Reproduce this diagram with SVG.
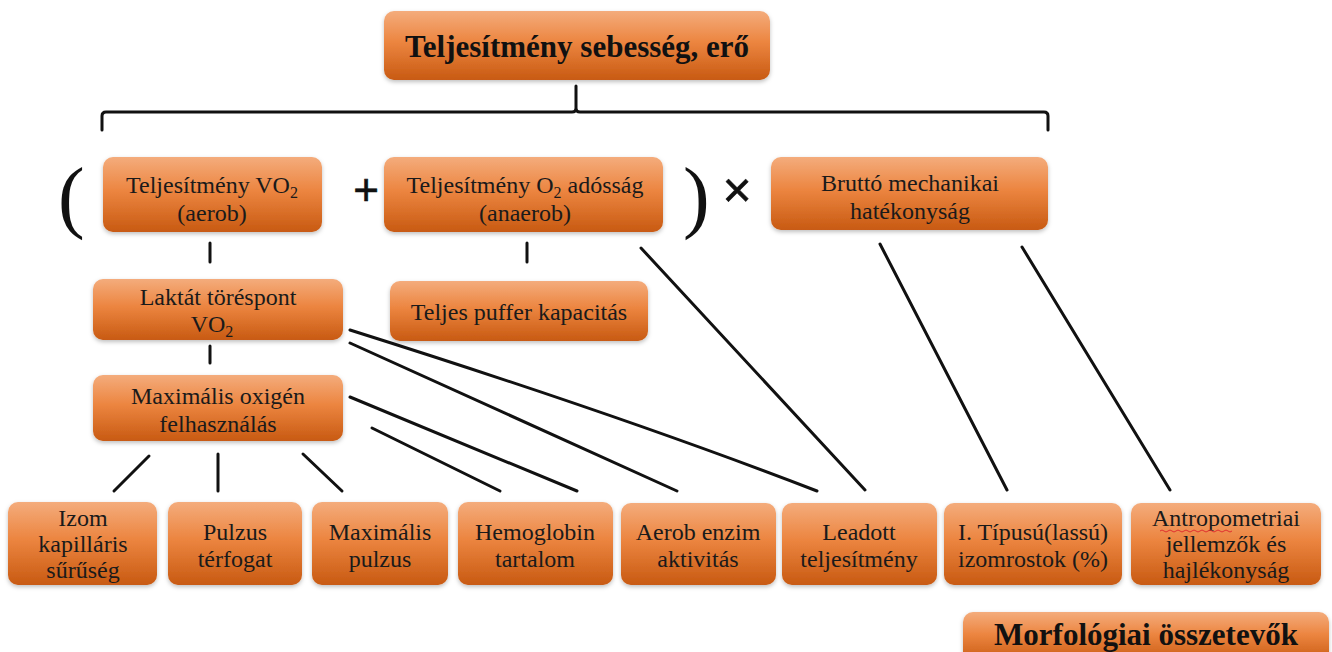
<svg xmlns="http://www.w3.org/2000/svg" width="1332" height="652" viewBox="0 0 1332 652">
<defs>
<linearGradient id="og" x1="0" y1="0" x2="0" y2="1">
<stop offset="0" stop-color="#f4ac7c"/>
<stop offset="0.45" stop-color="#ec8540"/>
<stop offset="1" stop-color="#c85a12"/>
</linearGradient>
<filter id="sh" x="-5%" y="-10%" width="110%" height="130%">
<feDropShadow dx="0" dy="2" stdDeviation="2" flood-color="#000" flood-opacity="0.25"/>
</filter>
</defs>
<style>
.box{fill:url(#og);filter:url(#sh)}
text{font-family:'Liberation Serif',serif}
.t{font-size:24px;fill:#1a1a1a;text-anchor:middle}
.tb{font-size:31px;font-weight:bold;fill:#111;text-anchor:middle}
.ln{stroke:#111;stroke-width:3;fill:none;stroke-linecap:round}
.sub{font-size:16px}
.op{font-family:'Liberation Sans',sans-serif;fill:#111;stroke:#111;stroke-width:0.6;text-anchor:middle}
</style>
<rect width="1332" height="652" fill="#fff"/>

<g id="connectors">
<path class="ln" d="M102,130 L102,116 Q102,112 106,112 L572,112 Q576,112 576,108 L576,86 M576,108 Q576,112 580,112 L1044,112 Q1048,112 1048,116 L1048,130"/>
<line class="ln" x1="210" y1="243" x2="210" y2="262"/>
<line class="ln" x1="527" y1="243" x2="527" y2="262"/>
<line class="ln" x1="210" y1="346" x2="210" y2="363"/>
<line class="ln" x1="149" y1="456" x2="114" y2="491"/>
<line class="ln" x1="218" y1="454" x2="218" y2="491"/>
<line class="ln" x1="303" y1="454" x2="342" y2="491"/>
<path class="ln" d="M350,330 Q620,415 817,491"/>
<line class="ln" x1="350" y1="343" x2="677" y2="491"/>
<line class="ln" x1="350" y1="397" x2="577" y2="491"/>
<line class="ln" x1="372" y1="428" x2="500" y2="491"/>
<line class="ln" x1="641" y1="248" x2="865" y2="490"/>
<line class="ln" x1="880" y1="244" x2="1007" y2="490"/>
<line class="ln" x1="1022" y1="247" x2="1170" y2="490"/>
</g>

<g id="title">
<rect class="box" x="384" y="11" width="386" height="69" rx="10"/>
<text class="tb" x="577" y="57">Teljesítmény sebesség, erő</text>
</g>

<g id="operators">
<text x="58" y="223" font-size="80" fill="#111">(</text>
<text class="op" x="366" y="205" font-size="44">+</text>
<text x="683" y="223" font-size="80" fill="#111">)</text>
<text class="op" x="737" y="207" font-size="50">×</text>
</g>

<g id="vo2">
<rect class="box" x="103" y="157" width="219" height="75" rx="10"/>
<text class="t" x="212" y="193">Teljesítmény VO<tspan class="sub" dy="5">2</tspan></text>
<text class="t" x="212" y="221">(aerob)</text>
</g>

<g id="o2debt">
<rect class="box" x="384" y="157" width="279" height="75" rx="10"/>
<text class="t" x="525" y="193">Teljesítmény O<tspan class="sub" dy="5">2</tspan><tspan dy="-5"> adósság</tspan></text>
<text class="t" x="525" y="221">(anaerob)</text>
</g>

<g id="brutto">
<rect class="box" x="771" y="157" width="277" height="73" rx="10"/>
<text class="t" x="910" y="191">Bruttó mechanikai</text>
<text class="t" x="910" y="219">hatékonyság</text>
</g>

<g id="laktat">
<rect class="box" x="93" y="279" width="250" height="61" rx="10"/>
<text class="t" x="218" y="305">Laktát töréspont</text>
<text class="t" x="212" y="332">VO<tspan class="sub" dy="5">2</tspan></text>
</g>

<g id="puffer">
<rect class="box" x="390" y="281" width="258" height="60" rx="10"/>
<text class="t" x="519" y="320">Teljes puffer kapacitás</text>
</g>

<g id="maxoxigen">
<rect class="box" x="93" y="375" width="250" height="66" rx="10"/>
<text class="t" x="218" y="404">Maximális oxigén</text>
<text class="t" x="218" y="432">felhasználás</text>
</g>

<g id="izom">
<rect class="box" x="8" y="502" width="149" height="83" rx="10"/>
<text class="t" x="83" y="526">Izom</text>
<text class="t" x="83" y="552">kapilláris</text>
<text class="t" x="83" y="578">sűrűség</text>
</g>

<g id="pulzustf">
<rect class="box" x="168" y="502" width="134" height="83" rx="10"/>
<text class="t" x="235" y="540">Pulzus</text>
<text class="t" x="235" y="567">térfogat</text>
</g>

<g id="maxpulzus">
<rect class="box" x="312" y="502" width="136" height="83" rx="10"/>
<text class="t" x="380" y="540">Maximális</text>
<text class="t" x="380" y="567">pulzus</text>
</g>

<g id="hemoglobin">
<rect class="box" x="458" y="502" width="155" height="83" rx="10"/>
<text class="t" x="535" y="540">Hemoglobin</text>
<text class="t" x="535" y="567">tartalom</text>
</g>

<g id="aerobenzim">
<rect class="box" x="621" y="503" width="155" height="82" rx="10"/>
<text class="t" x="698" y="540">Aerob enzim</text>
<text class="t" x="698" y="567">aktivitás</text>
</g>

<g id="leadott">
<rect class="box" x="782" y="503" width="155" height="82" rx="10"/>
<text class="t" x="859" y="540">Leadott</text>
<text class="t" x="859" y="567">teljesítmény</text>
</g>

<g id="tipus1">
<rect class="box" x="944" y="503" width="178" height="82" rx="10"/>
<text class="t" x="1033" y="540">I. Típusú(lassú)</text>
<text class="t" x="1033" y="567">izomrostok (%)</text>
</g>

<g id="antropometria">
<rect class="box" x="1131" y="503" width="190" height="82" rx="10"/>
<text class="t" x="1226" y="526">Antropometriai</text>
<path d="M1160,531 q2,-2 4,0 t4,0 t4,0 t4,0 t4,0 t4,0 t4,0 t4,0 t4,0 t4,0 t4,0 t4,0 t4,0 t4,0 t4,0 t4,0 t4,0 t4,0" stroke="#e03030" stroke-width="1" fill="none"/>
<text class="t" x="1226" y="552">jellemzők és</text>
<text class="t" x="1226" y="578">hajlékonyság</text>
</g>

<g id="morfologiai">
<rect class="box" x="963" y="612" width="366" height="50" rx="10"/>
<text class="tb" x="1146" y="645">Morfológiai összetevők</text>
</g>
</svg>
